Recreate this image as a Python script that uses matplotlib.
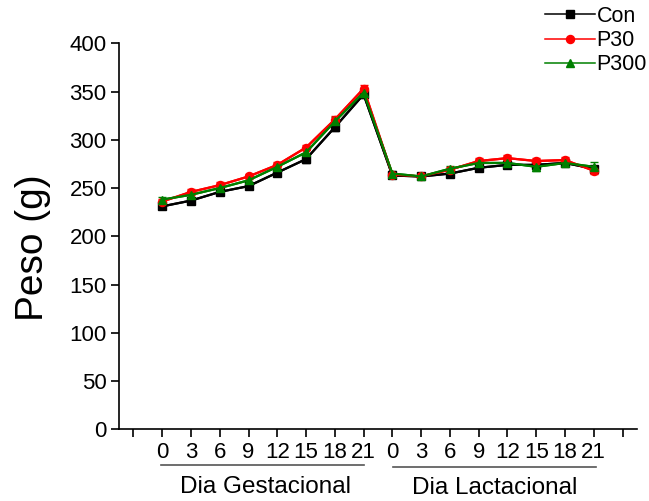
import numpy as np
import matplotlib
matplotlib.use("Agg")
import matplotlib.pyplot as plt
import matplotlib.transforms as mtransforms

plt.rcParams['font.family'] = ['Liberation Sans', 'DejaVu Sans']

# days of measurement (gestation 0-21, then lactation 0-21)
days = [0, 3, 6, 9, 12, 15, 18, 21]
groups = ["Con", "P30", "P300"]

con = [231, 237, 246, 252, 266, 280, 313, 347,
       263, 262, 265, 271, 274, 274, 276, 270]
p30 = [236, 246, 253, 262, 274, 292, 321, 353,
       264, 262, 269, 278, 281, 278, 279, 268]
p300 = [238, 243, 250, 258, 272, 287, 319, 349,
        265, 262, 270, 276, 276, 272, 276, 272]

con_sem = [3, 3, 3, 3, 3, 4, 4, 4, 3, 3, 3, 3, 3, 3, 3, 3]
p30_sem = [3, 3, 3, 3, 3, 3, 4, 4, 3, 3, 3, 3, 3, 3, 3, 3]
p300_sem = [3, 3, 3, 3, 3, 3, 5, 4, 3, 3, 3, 3, 3, 4, 3, 5]

fig = plt.figure(figsize=(6.49, 5.01), dpi=100)
ax = fig.add_axes([0.1834, 0.1431, 0.798, 0.7705])

x = np.arange(1, 17)
styles = [("black", "s"), ("red", "o"), ("#008000", "^")]
handles = []
for vals, sem, (col, mk), name in zip([con, p30, p300], [con_sem, p30_sem, p300_sem],
                                      styles, groups):
    ax.errorbar(x, vals, yerr=sem, color=col, ecolor=col, elinewidth=1,
                capsize=3, capthick=1, lw=1.6, zorder=3)
    ax.plot(x, vals, color=col, marker=mk, markersize=5.8, lw=1.6, zorder=4)
    h, = ax.plot([], [], color=col, marker=mk, markersize=5.8, lw=1.1)
    handles.append(h)

ax.set_xlim(-0.5, 17.5)
ax.set_ylim(0, 400)
ax.set_yticks(np.arange(0, 401, 50))
ax.set_xticks(np.arange(0, 18))
ax.set_xticklabels([""] + [str(d) for d in days] * 2 + [""])
ax.tick_params(labelsize=16, length=6, width=1.2, direction="out", pad=3)
ax.spines["top"].set_visible(False)
ax.spines["right"].set_visible(False)
for s in ["left", "bottom"]:
    ax.spines[s].set_linewidth(1.2)

fig.text(33 / 649, 1 - 248 / 501, "Peso (g)", rotation=90, fontsize=28,
         ha="center", va="center")

# group brackets below the day labels
trans = mtransforms.blended_transform_factory(ax.transData, ax.transAxes)
ax.plot([0.95, 8.0], [-0.0925, -0.0925], color="#555555", lw=1.2,
        transform=trans, clip_on=False)
ax.plot([9.02, 16.08], [-0.097, -0.097], color="#555555", lw=1.2,
        transform=trans, clip_on=False)
ax.text(4.6, -0.149, "Dia Gestacional", transform=trans, fontsize=17.5,
        ha="center", va="center")
ax.text(12.57, -0.152, "Dia Lactacional", transform=trans, fontsize=17.5,
        ha="center", va="center")

fig.legend(handles, groups, loc="upper left",
           bbox_to_anchor=(545 / 649, 1 - 6 / 501), frameon=False,
           fontsize=15.5, handlelength=2.3, handletextpad=0.1,
           borderpad=0, borderaxespad=0, labelspacing=0.15)

fig.savefig("out.png", dpi=100)
